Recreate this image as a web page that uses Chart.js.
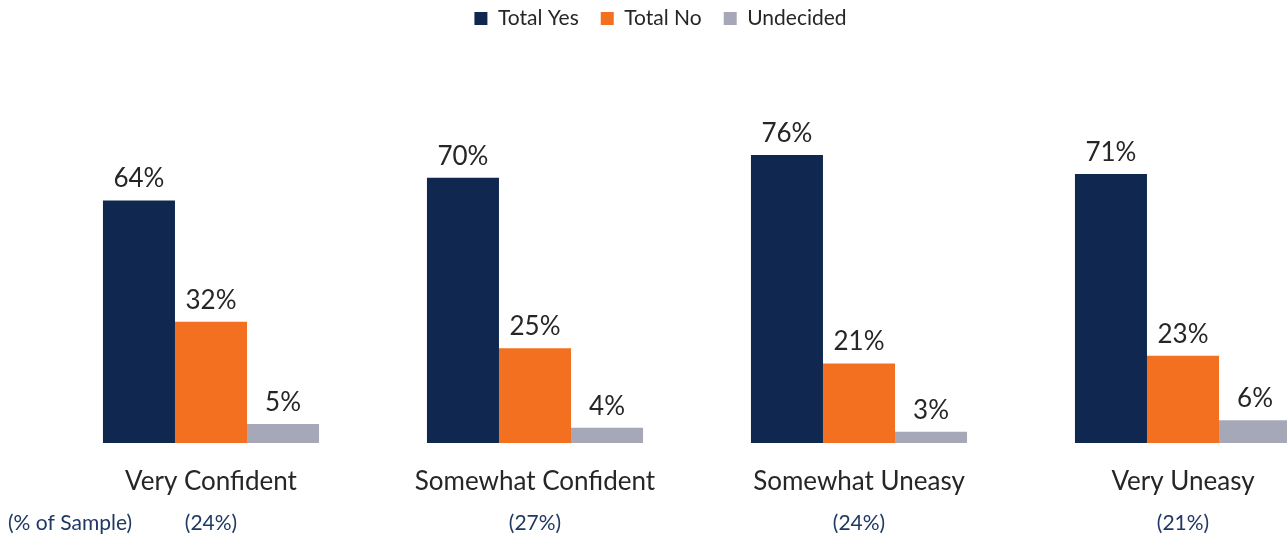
<!DOCTYPE html>
<html>
<head>
<meta charset="utf-8">
<script src="https://cdn.jsdelivr.net/npm/chart.js@4.4.1/dist/chart.umd.min.js"></script>
<style>
  html, body { margin: 0; padding: 0; background: #fff; overflow: hidden; }
  #wrap { width: 1287px; height: 538px; }
</style>
</head>
<body>
<div id="wrap"><canvas id="chart"></canvas></div>
<script>
// Data
const categories = ['Very Confident', 'Somewhat Confident', 'Somewhat Uneasy', 'Very Uneasy'];
const sampleShare = ['(24%)', '(27%)', '(24%)', '(21%)'];
const totalYes = [64, 70, 76, 71];
const totalNo = [32, 25, 21, 23];
const undecided = [5, 4, 3, 6];

const textColor = '#262626';
const navy = '#10284f';
const orange = '#f37021';
const gray = '#a7a8b7';

// value labels above each bar
const valueLabels = {
  id: 'valueLabels',
  afterDatasetsDraw(chart) {
    const ctx = chart.ctx;
    ctx.save();
    ctx.font = '26px Lato';
    ctx.fillStyle = textColor;
    ctx.textAlign = 'center';
    ctx.textBaseline = 'alphabetic';
    chart.data.datasets.forEach((ds, i) => {
      chart.getDatasetMeta(i).data.forEach((bar, j) => {
        ctx.fillText(ds.data[j] + '%', bar.x, bar.y - 13);
      });
    });
    ctx.restore();
  }
};

// "(% of Sample)" row under the category labels
const sampleRow = {
  id: 'sampleRow',
  afterDraw(chart) {
    const ctx = chart.ctx;
    const x = chart.scales.x;
    ctx.save();
    ctx.font = '21px Lato';
    ctx.fillStyle = '#1f3864';
    ctx.textBaseline = 'middle';
    ctx.textAlign = 'left';
    ctx.fillText('(% of Sample)', 8, 523);
    ctx.textAlign = 'center';
    sampleShare.forEach((s, i) => {
      ctx.fillText(s, x.getPixelForTick(i), 523);
    });
    ctx.restore();
  }
};

const hiddenAxis = (pos, width) => ({
  type: 'linear',
  position: pos,
  display: true,
  min: 0,
  max: 106.6,
  ticks: { display: false },
  grid: { display: false, drawTicks: false },
  border: { display: false },
  afterFit: (scale) => { scale.width = width; }
});

new Chart(document.getElementById('chart'), {
  type: 'bar',
  data: {
    labels: categories,
    datasets: [
      { label: 'Total Yes', data: totalYes, backgroundColor: navy },
      { label: 'Total No', data: totalNo, backgroundColor: orange },
      { label: 'Undecided', data: undecided, backgroundColor: gray }
    ]
  },
  options: {
    responsive: true,
    maintainAspectRatio: false,
    animation: false,
    devicePixelRatio: 1,
    layout: { padding: { left: 34, top: -14 } },
    datasets: {
      bar: { categoryPercentage: 0.667, barPercentage: 1.0, clip: false }
    },
    plugins: {
      legend: {
        position: 'top',
        labels: {
          boxWidth: 13,
          boxHeight: 13,
          padding: 22,
          color: textColor,
          font: { family: 'Lato', size: 21 }
        }
      },
      tooltip: { enabled: false }
    },
    scales: {
      x: {
        offset: false,
        grid: { display: false, drawTicks: false },
        border: { display: false },
        ticks: {
          color: textColor,
          font: { family: 'Lato', size: 26 },
          padding: 23,
          maxRotation: 0,
          autoSkip: false
        },
        afterFit: (scale) => { scale.height = 95; }
      },
      y: hiddenAxis('left', 177),
      y2: hiddenAxis('right', 104)
    }
  },
  plugins: [valueLabels, sampleRow]
});
</script>
</body>
</html>
